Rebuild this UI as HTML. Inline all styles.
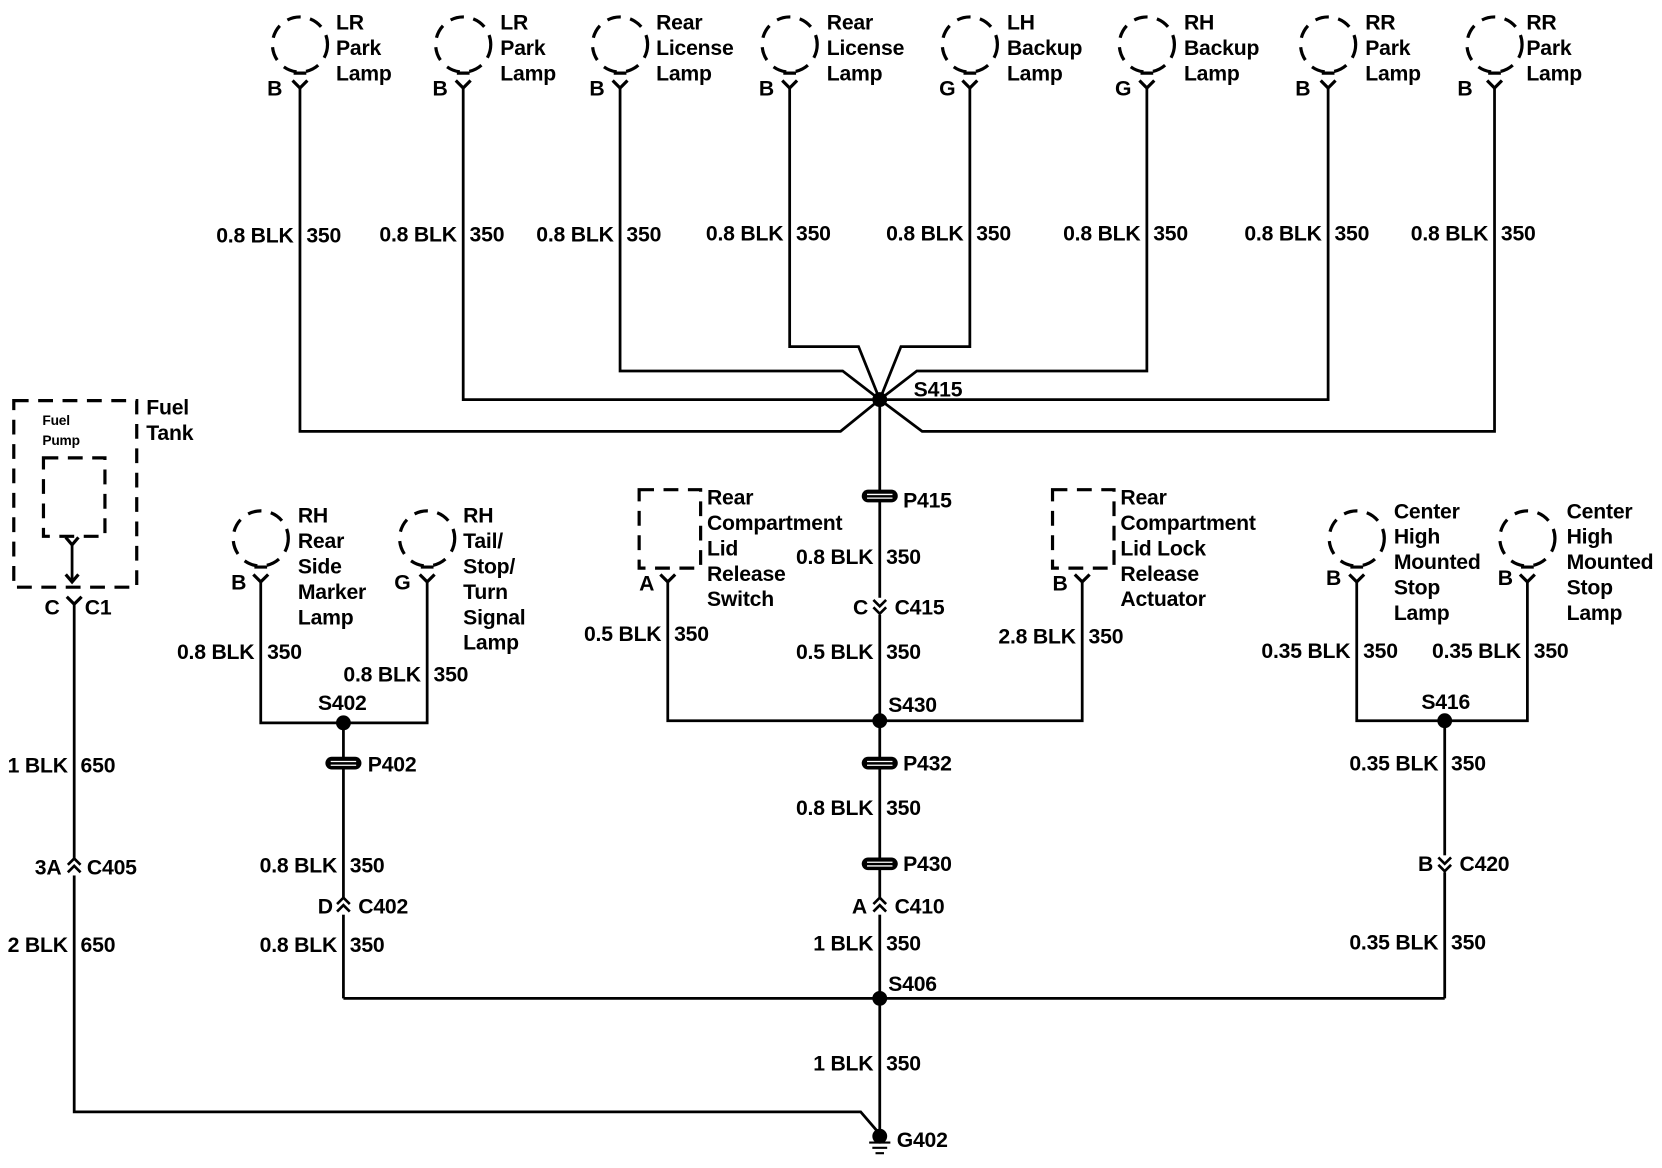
<!DOCTYPE html>
<html><head><meta charset="utf-8"><style>
html,body{margin:0;padding:0;background:#fff;}
svg{display:block}
text{font-family:"Liberation Sans",Arial,sans-serif;font-weight:bold;font-size:20px;fill:#000;letter-spacing:-0.2px}
.r{text-anchor:end}
</style></head><body>
<svg width="1662" height="1168" viewBox="0 0 1568 1102" preserveAspectRatio="none" xmlns="http://www.w3.org/2000/svg">
<defs>
<g id="lamp"><circle cx="0" cy="-40" r="26" fill="none" stroke="#000" stroke-width="3" stroke-dasharray="13 9"/><path d="M-6,-13 L6,-13 M-7,-6 L0,1 L7,-6" stroke="#000" stroke-width="3" fill="none"/></g>
<g id="yc"><path d="M-7,-6 L0,1 L7,-6" stroke="#000" stroke-width="3" fill="none"/></g>
<g id="grom"><rect x="-17" y="-6" width="34" height="12" rx="6" fill="#000"/><path d="M-12,-1.5 H12 M-12,2 H12" stroke="#fff" stroke-width="1.2"/></g>
<g id="up"><path d="M-6,-2 L0,-8 L6,-2 M-6,5 L0,-1 L6,5" stroke="#000" stroke-width="2.5" fill="none"/></g>
<g id="dn"><path d="M-6,-6 L0,0 L6,-6 M-6,1 L0,7 L6,1" stroke="#000" stroke-width="2.5" fill="none"/></g>
</defs>
<g stroke="#000" stroke-width="2.6" fill="none">
<polyline points="283,82 283,407 793,407 830,377"/>
<polyline points="437,82 437,377 830,377"/>
<polyline points="585,82 585,350 795,350 830,377"/>
<polyline points="745,82 745,327 810,327 830,377"/>
<polyline points="915,82 915,327 850,327 830,377"/>
<polyline points="1082,82 1082,350 865,350 830,377"/>
<polyline points="1253,82 1253,377 830,377"/>
<polyline points="1410,82 1410,407 870,407 830,377"/>
<line x1="830" y1="377" x2="830" y2="1070"/>
<rect x="13" y="378" width="116" height="176" stroke-width="3" stroke-dasharray="14 9"/>
<rect x="41" y="432" width="58" height="74" stroke-width="3" stroke-dasharray="14 9"/>
<line x1="68" y1="514" x2="68" y2="548"/>
<polyline points="70,568 70,1049 812,1049 830,1070"/>
<polyline points="246,548 246,682 403,682 403,548"/>
<line x1="324" y1="682" x2="324" y2="942"/>
<line x1="324" y1="942" x2="1363" y2="942"/>
<polyline points="630,548 630,680 1021,680 1021,548"/>
<rect x="603" y="462" width="58" height="74" stroke-width="3" stroke-dasharray="14 9"/>
<rect x="993" y="462" width="58" height="74" stroke-width="3" stroke-dasharray="14 9"/>
<polyline points="1280,548 1280,680 1441,680 1441,548"/>
<line x1="1363" y1="680" x2="1363" y2="942"/>
<path d="M820,1078 H840 M823,1083 H837 M826,1088 H834" stroke-width="2"/>
</g>
<path d="M62,542 L68,549 L74,542 M62,507 L68,514 L74,507" stroke="#000" stroke-width="3" fill="none"/>
<use href="#yc" x="70" y="569"/>
<use href="#lamp" x="283" y="82"/><use href="#lamp" x="437" y="82"/><use href="#lamp" x="585" y="82"/><use href="#lamp" x="745" y="82"/><use href="#lamp" x="915" y="82"/><use href="#lamp" x="1082" y="82"/><use href="#lamp" x="1253" y="82"/><use href="#lamp" x="1410" y="82"/>
<use href="#lamp" x="246" y="548"/><use href="#lamp" x="403" y="548"/><use href="#lamp" x="1280" y="548"/><use href="#lamp" x="1441" y="548"/>
<use href="#yc" x="630" y="548"/><use href="#yc" x="1021" y="548"/>
<g fill="#000"><circle cx="830" cy="377" r="7"/><circle cx="324" cy="682" r="7"/><circle cx="830" cy="680" r="7"/><circle cx="1363" cy="680" r="7"/><circle cx="830" cy="942" r="7"/><circle cx="830" cy="1072" r="7"/></g>
<use href="#grom" x="830" y="468"/><use href="#grom" x="830" y="720"/><use href="#grom" x="830" y="815"/><use href="#grom" x="324" y="720"/>
<rect x="822" y="564" width="16" height="16" fill="#fff"/><use href="#dn" x="830" y="572"/>
<rect x="1355" y="807" width="16" height="16" fill="#fff"/><use href="#dn" x="1363" y="815"/>
<rect x="822" y="847" width="16" height="16" fill="#fff"/><use href="#up" x="830" y="855"/>
<rect x="316" y="847" width="16" height="16" fill="#fff"/><use href="#up" x="324" y="855"/>
<rect x="62" y="810" width="16" height="16" fill="#fff"/><use href="#up" x="70" y="818"/>

<text x="317" y="28">LR</text><text x="317" y="52">Park</text><text x="317" y="76">Lamp</text><text x="252" y="90">B</text>
<text x="472" y="28">LR</text><text x="472" y="52">Park</text><text x="472" y="76">Lamp</text><text x="408" y="90">B</text>
<text x="619" y="28">Rear</text><text x="619" y="52">License</text><text x="619" y="76">Lamp</text><text x="556" y="90">B</text>
<text x="780" y="28">Rear</text><text x="780" y="52">License</text><text x="780" y="76">Lamp</text><text x="716" y="90">B</text>
<text x="950" y="28">LH</text><text x="950" y="52">Backup</text><text x="950" y="76">Lamp</text><text x="886" y="90">G</text>
<text x="1117" y="28">RH</text><text x="1117" y="52">Backup</text><text x="1117" y="76">Lamp</text><text x="1052" y="90">G</text>
<text x="1288" y="28">RR</text><text x="1288" y="52">Park</text><text x="1288" y="76">Lamp</text><text x="1222" y="90">B</text>
<text x="1440" y="28">RR</text><text x="1440" y="52">Park</text><text x="1440" y="76">Lamp</text><text x="1375" y="90">B</text>
<text class="r" x="277" y="229">0.8 BLK</text><text x="289" y="229">350</text>
<text class="r" x="431" y="228">0.8 BLK</text><text x="443" y="228">350</text>
<text class="r" x="579" y="228">0.8 BLK</text><text x="591" y="228">350</text>
<text class="r" x="739" y="227">0.8 BLK</text><text x="751" y="227">350</text>
<text class="r" x="909" y="227">0.8 BLK</text><text x="921" y="227">350</text>
<text class="r" x="1076" y="227">0.8 BLK</text><text x="1088" y="227">350</text>
<text class="r" x="1247" y="227">0.8 BLK</text><text x="1259" y="227">350</text>
<text class="r" x="1404" y="227">0.8 BLK</text><text x="1416" y="227">350</text>
<text x="862" y="374">S415</text>
<text x="138" y="391">Fuel</text><text x="138" y="415">Tank</text>
<text x="40" y="401" style="font-size:13px">Fuel</text><text x="40" y="420" style="font-size:13px">Pump</text>
<text x="42" y="580">C</text><text x="80" y="580">C1</text>
<text class="r" x="64" y="729">1 BLK</text><text x="76" y="729">650</text>
<text class="r" x="58" y="825">3A</text><text x="82" y="825">C405</text>
<text class="r" x="64" y="898">2 BLK</text><text x="76" y="898">650</text>
<text x="281" y="493">RH</text><text x="281" y="517">Rear</text><text x="281" y="541">Side</text><text x="281" y="565">Marker</text><text x="281" y="589">Lamp</text><text x="218" y="556">B</text>
<text x="437" y="493">RH</text><text x="437" y="517">Tail/</text><text x="437" y="541">Stop/</text><text x="437" y="565">Turn</text><text x="437" y="589">Signal</text><text x="437" y="613">Lamp</text><text x="372" y="556">G</text>
<text class="r" x="240" y="622">0.8 BLK</text><text x="252" y="622">350</text>
<text class="r" x="397" y="643">0.8 BLK</text><text x="409" y="643">350</text>
<text x="300" y="670">S402</text>
<text x="347" y="728">P402</text>
<text class="r" x="318" y="823">0.8 BLK</text><text x="330" y="823">350</text>
<text class="r" x="314" y="862">D</text><text x="338" y="862">C402</text>
<text class="r" x="318" y="898">0.8 BLK</text><text x="330" y="898">350</text>
<text x="667" y="476">Rear</text><text x="667" y="500">Compartment</text><text x="667" y="524">Lid</text><text x="667" y="548">Release</text><text x="667" y="572">Switch</text><text x="603" y="557">A</text>
<text class="r" x="624" y="605">0.5 BLK</text><text x="636" y="605">350</text>
<text x="852" y="479">P415</text>
<text class="r" x="824" y="532">0.8 BLK</text><text x="836" y="532">350</text>
<text class="r" x="819" y="580">C</text><text x="844" y="580">C415</text>
<text class="r" x="824" y="622">0.5 BLK</text><text x="836" y="622">350</text>
<text x="838" y="672">S430</text>
<text x="1057" y="476">Rear</text><text x="1057" y="500">Compartment</text><text x="1057" y="524">Lid Lock</text><text x="1057" y="548">Release</text><text x="1057" y="572">Actuator</text><text x="993" y="557">B</text>
<text class="r" x="1015" y="607">2.8 BLK</text><text x="1027" y="607">350</text>
<text x="852" y="727">P432</text>
<text class="r" x="824" y="769">0.8 BLK</text><text x="836" y="769">350</text>
<text x="852" y="822">P430</text>
<text class="r" x="818" y="862">A</text><text x="844" y="862">C410</text>
<text class="r" x="824" y="897">1 BLK</text><text x="836" y="897">350</text>
<text x="838" y="935">S406</text>
<text class="r" x="824" y="1010">1 BLK</text><text x="836" y="1010">350</text>
<text x="846" y="1082">G402</text>
<text x="1315" y="489">Center</text><text x="1315" y="513">High</text><text x="1315" y="537">Mounted</text><text x="1315" y="561">Stop</text><text x="1315" y="585">Lamp</text><text x="1251" y="552">B</text>
<text x="1478" y="489">Center</text><text x="1478" y="513">High</text><text x="1478" y="537">Mounted</text><text x="1478" y="561">Stop</text><text x="1478" y="585">Lamp</text><text x="1413" y="552">B</text>
<text class="r" x="1274" y="621">0.35 BLK</text><text x="1286" y="621">350</text>
<text class="r" x="1435" y="621">0.35 BLK</text><text x="1447" y="621">350</text>
<text x="1341" y="669">S416</text>
<text class="r" x="1357" y="727">0.35 BLK</text><text x="1369" y="727">350</text>
<text class="r" x="1352" y="822">B</text><text x="1377" y="822">C420</text>
<text class="r" x="1357" y="896">0.35 BLK</text><text x="1369" y="896">350</text>
</svg>
</body></html>
